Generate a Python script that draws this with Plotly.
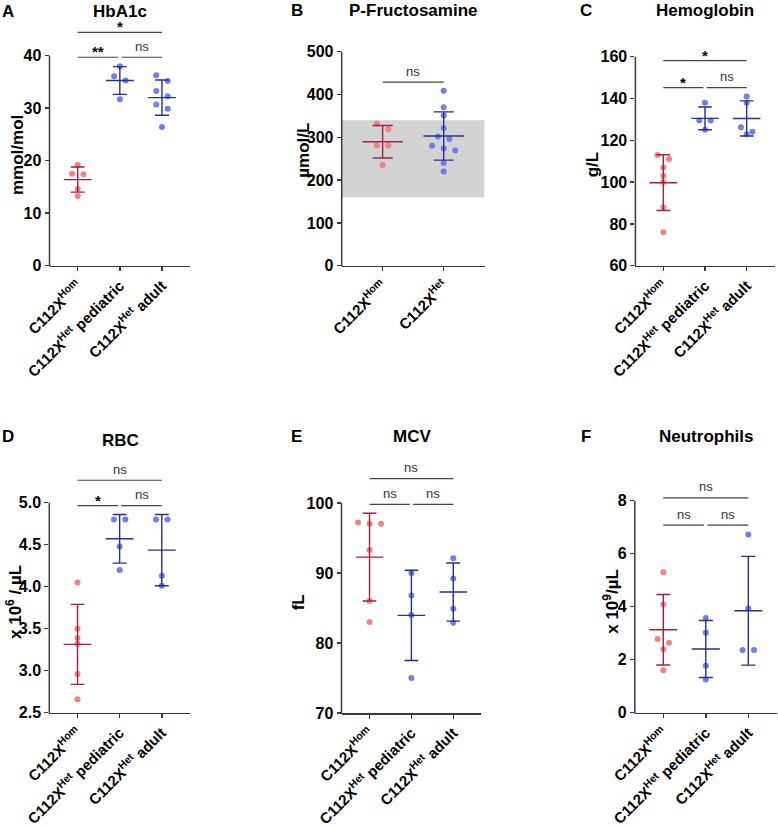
import numpy as np
import plotly.graph_objects as go

W, H = 778, 826

# ---------------- data ----------------
cats3 = ["C112X<sup>Hom</sup>", "C112X<sup>Het</sup> pediatric", "C112X<sup>Het</sup> adult"]
cats2 = ["C112X<sup>Hom</sup>", "C112X<sup>Het</sup>"]

hba1c_hom = [19.2, 17.5, 17.4, 14.6, 13.3]
hba1c_het_ped = [38.0, 36.1, 35.3, 31.7]
hba1c_het_adult = [36.3, 35.2, 33.3, 32.3, 30.7, 29.9, 26.4]

fruct_hom = [332, 319, 281, 281, 235]
fruct_het = [409, 370, 351, 322, 302, 296, 280, 274, 269, 240, 220]

hb_hom = [113, 111, 107, 103, 100, 88, 76]
hb_het_ped = [138, 129.5, 129.5, 125]
hb_het_adult = [141, 138, 126.3, 124.1, 122.9]

rbc_hom = [4.05, 3.50, 3.39, 3.32, 2.96, 2.66]
rbc_het_ped = [4.80, 4.80, 4.48, 4.20]
rbc_het_adult = [4.80, 4.80, 4.13, 4.01]

mcv_hom = [97.2, 97.05, 97.05, 93.3, 86.0, 83.0]
mcv_het_ped = [90.0, 86.8, 84.0, 75.0]
mcv_het_adult = [92.1, 89.2, 84.9, 82.9]

neu_hom = [5.30, 4.08, 2.78, 2.64, 2.39, 1.60]
neu_het_ped = [3.57, 3.02, 1.77, 1.25]
neu_het_adult = [6.72, 3.93, 2.37, 2.37]

fruct_ref_range = [160, 340]

# ---------------- style ----------------
RED_DOT, BLUE_DOT = "#F07C7C", "#6A78EA"
RED_BAR, BLUE_BAR = "#A81E42", "#26308E"
AXIS = "#3a3a3a"
SIGC = "#444444"
FONT = "Liberation Sans, Arial, sans-serif"

panels = [
    dict(letter="A", title="HbA1c", ytitle="mmol/mol", cats=cats3,
         groups=[hba1c_hom, hba1c_het_ped, hba1c_het_adult],
         xl=49.5, xr=190.2, yb=265.7, yt=55.7, ymin=0, ymax=40, dtop=18,
         ticks=[0, 10, 20, 30, 40], ticktext=None,
         sig=[(0, 1, "**", 0), (1, 2, "ns", 0), (0, 2, "*", 1)], siglev=[39.7, 44.45],
         title_xy=(120, 11.7), letter_xy=(8.3, 11.7), ytitle_xy=(18, 155)),
    dict(letter="B", title="P-Fructosamine", ytitle="µmol/L", cats=cats2,
         groups=[fruct_hom, fruct_het],
         xl=341.7, xr=484.6, yb=265.7, yt=51.7, ymin=0, ymax=500, dtop=18,
         ticks=[0, 100, 200, 300, 400, 500], ticktext=None,
         sig=[(0, 1, "ns", 0)], siglev=[429],
         title_xy=(412.7, 10), letter_xy=(296.7, 10), ytitle_xy=(302.7, 150)),
    dict(letter="C", title="Hemoglobin", ytitle="g/L", cats=cats3,
         groups=[hb_hom, hb_het_ped, hb_het_adult],
         xl=635.4, xr=774.6, yb=265.7, yt=56.7, ymin=60, ymax=160, dtop=18,
         ticks=[60, 80, 100, 120, 140, 160], ticktext=None,
         sig=[(0, 1, "*", 0), (1, 2, "ns", 0), (0, 2, "*", 1)], siglev=[145.2, 158.1],
         title_xy=(705, 10), letter_xy=(585.7, 10), ytitle_xy=(593.3, 164)),
    dict(letter="D", title="RBC", ytitle="x 10<sup>6</sup> / µL", cats=cats3,
         groups=[rbc_hom, rbc_het_ped, rbc_het_adult],
         xl=49.3, xr=190.0, yb=712.7, yt=502.7, ymin=2.5, ymax=5.0, dtop=440,
         ticks=[2.5, 3.0, 3.5, 4.0, 4.5, 5.0], ticktext=["2.5", "3.0", "3.5", "4.0", "4.5", "5.0"],
         sig=[(0, 1, "*", 0), (1, 2, "ns", 0), (0, 2, "ns", 1)], siglev=[4.964, 5.267],
         title_xy=(120, 440), letter_xy=(8.3, 436.7), ytitle_xy=(14, 602)),
    dict(letter="E", title="MCV", ytitle="fL", cats=cats3,
         groups=[mcv_hom, mcv_het_ped, mcv_het_adult],
         xl=341.5, xr=481.3, yb=713.0, yt=503.0, ymin=70, ymax=100, dtop=440,
         ticks=[70, 80, 90, 100], ticktext=None,
         sig=[(0, 1, "ns", 0), (1, 2, "ns", 0), (0, 2, "ns", 1)], siglev=[99.81, 103.47],
         title_xy=(411.7, 436.7), letter_xy=(296.7, 436.7), ytitle_xy=(298.3, 602)),
    dict(letter="F", title="Neutrophils", ytitle="x 10<sup>9</sup>/µL", cats=cats3,
         groups=[neu_hom, neu_het_ped, neu_het_adult],
         xl=634.8, xr=776.8, yb=712.7, yt=500.7, ymin=0, ymax=8, dtop=440,
         ticks=[0, 2, 4, 6, 8], ticktext=None,
         sig=[(0, 1, "ns", 0), (1, 2, "ns", 0), (0, 2, "ns", 1)], siglev=[7.08, 8.11],
         title_xy=(706, 436.7), letter_xy=(585.7, 436.7), ytitle_xy=(611.5, 601.3)),
]


def swarm(vals, ppu, spacing_px, thr=5.8, step=11.5):
    order = sorted(range(len(vals)), key=lambda i: -vals[i])
    offs = [0.0] * len(vals)
    rows, cur = [], []
    for i in order:
        if cur and (vals[cur[0]] - vals[i]) * ppu < thr:
            cur.append(i)
        else:
            if cur:
                rows.append(cur)
            cur = [i]
    rows.append(cur)
    for r in rows:
        k = len(r)
        for j, i in enumerate(r):
            offs[i] = (j - (k - 1) / 2) * step / spacing_px
    return offs


fig = go.Figure()
shapes, annotations = [], []
layout_axes = {}

for k, p in enumerate(panels):
    sfx = "" if k == 0 else str(k + 1)
    xa, ya = "x" + sfx, "y" + sfx
    n = len(p["groups"])
    xr0, xr1 = -0.67, n - 1 + 0.67
    spacing_px = (p["xr"] - p["xl"]) / (xr1 - xr0)
    ppu = (p["yb"] - p["yt"]) / (p["ymax"] - p["ymin"])
    ytop_range = p["ymin"] + (p["yb"] - p["dtop"]) / ppu

    layout_axes["xaxis" + sfx] = dict(
        domain=[p["xl"] / W, p["xr"] / W], range=[xr0, xr1], anchor=ya,
        tickvals=list(range(n)), ticktext=p["cats"], tickangle=-45, automargin=False,
        showline=True, linecolor=AXIS, linewidth=1.5, ticks="outside",
        ticklen=4, tickwidth=1.5, tickcolor=AXIS, showgrid=False, zeroline=False,
        tickfont=dict(family=FONT, size=15, color="black", weight="bold"),
    )
    layout_axes["yaxis" + sfx] = dict(
        domain=[1 - p["yb"] / H, 1 - p["dtop"] / H], range=[p["ymin"], ytop_range],
        anchor=xa, tickvals=p["ticks"], ticktext=p["ticktext"], automargin=False,
        showline=False, ticks="outside", ticklen=4, tickwidth=1.5, tickcolor=AXIS,
        showgrid=False, zeroline=False,
        tickfont=dict(family=FONT, size=16, color="black", weight="bold"),
    )

    # y-axis line only up to top tick
    shapes.append(dict(type="line", xref="paper", yref="paper",
                       x0=p["xl"] / W, x1=p["xl"] / W,
                       y0=1 - (p["yb"] + 0.75) / H, y1=1 - p["yt"] / H,
                       line=dict(color=AXIS, width=1.5)))

    if p["letter"] == "B":
        shapes.append(dict(type="rect", xref=xa, yref=ya, x0=xr0, x1=xr1,
                           y0=fruct_ref_range[0], y1=fruct_ref_range[1],
                           fillcolor="#D3D3D3", line=dict(width=0), layer="below"))

    for g, vals in enumerate(p["groups"]):
        dot = RED_DOT if g == 0 else BLUE_DOT
        bar = RED_BAR if g == 0 else BLUE_BAR
        offs = swarm(vals, ppu, spacing_px)
        fig.add_trace(go.Scatter(
            x=[g + o for o in offs], y=vals, mode="markers", xaxis=xa, yaxis=ya,
            marker=dict(size=6, color=dot, opacity=0.95, line=dict(width=0)),
            hoverinfo="skip", showlegend=False))
        arr = np.array(vals, dtype=float)
        m, sd = arr.mean(), arr.std(ddof=1)
        fig.add_trace(go.Scatter(
            x=[g], y=[m], mode="markers", xaxis=xa, yaxis=ya,
            marker=dict(size=1, color="rgba(0,0,0,0)"),
            error_y=dict(type="data", array=[sd], symmetric=True,
                         width=0.165 * spacing_px, thickness=1.4, color=bar),
            error_x=dict(type="data", array=[0.33], symmetric=True,
                         width=0, thickness=1.4, color=bar),
            hoverinfo="skip", showlegend=False))

    gap = 1.7 / spacing_px
    for (i, j, txt, lev) in p["sig"]:
        x0 = i + (gap if i != 0 else 0)
        x1 = j - (gap if j != n - 1 else 0)
        yv = p["siglev"][lev]
        shapes.append(dict(type="line", xref=xa, yref=ya, x0=x0, x1=x1, y0=yv, y1=yv,
                           line=dict(color=SIGC, width=1.2)))
        star = txt.startswith("*")
        annotations.append(dict(
            x=(x0 + x1) / 2, y=yv, xref=xa, yref=ya, text=txt, showarrow=False,
            xanchor="center", yanchor="bottom", yshift=(-5 if star else 1.5),
            font=dict(family=FONT, size=(15 if star else 13),
                      color=("black" if star else "#333333"),
                      weight=("bold" if star else "normal"))))

    tx, ty = p["title_xy"]
    annotations.append(dict(x=tx / W, y=1 - ty / H, xref="paper", yref="paper",
                            text=p["title"], showarrow=False, xanchor="center", yanchor="middle",
                            font=dict(family=FONT, size=17, color="black", weight="bold")))
    lx, ly = p["letter_xy"]
    annotations.append(dict(x=lx / W, y=1 - ly / H, xref="paper", yref="paper",
                            text=p["letter"], showarrow=False, xanchor="center", yanchor="middle",
                            font=dict(family=FONT, size=17, color="black", weight="bold")))
    yx, yy = p["ytitle_xy"]
    annotations.append(dict(x=yx / W, y=1 - yy / H, xref="paper", yref="paper",
                            text=p["ytitle"], showarrow=False, textangle=-90,
                            xanchor="center", yanchor="middle",
                            font=dict(family=FONT, size=17, color="black", weight="bold")))

fig.update_layout(
    width=W, height=H, margin=dict(l=0, r=0, t=0, b=0, autoexpand=False),
    paper_bgcolor="white", plot_bgcolor="white", showlegend=False, hovermode=False,
    shapes=shapes, annotations=annotations, **layout_axes)

fig.write_html("out.html", config={"displayModeBar": False, "staticPlot": True},
               post_script="document.body.style.margin='0';document.body.style.overflow='hidden';")
